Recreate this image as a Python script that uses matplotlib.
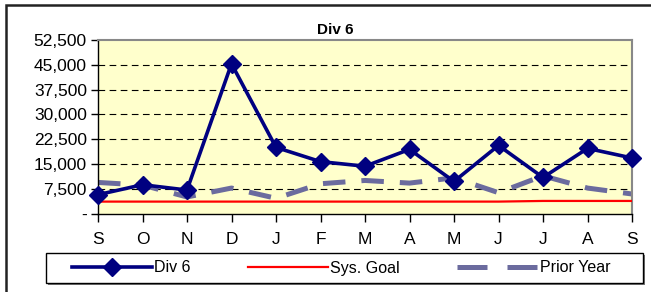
import matplotlib.pyplot as plt
import matplotlib.patches as mpatches
from matplotlib.lines import Line2D
import matplotlib.ticker as mticker

plt.rcParams['font.family'] = ['Liberation Sans', 'DejaVu Sans']

months = ['S', 'O', 'N', 'D', 'J', 'F', 'M', 'A', 'M', 'J', 'J', 'A', 'S']
div6 = [5700, 8700, 7100, 45300, 20000, 15700, 14300, 19400, 9700, 20600, 10900, 19700, 16800]
sys_goal = [3600, 3600, 3600, 3600, 3600, 3600, 3600, 3600, 3600, 3600, 3800, 3800, 3800]
prior_year = [9400, 8600, 5000, 7700, 4600, 9000, 10000, 9200, 10800, 6300, 11400, 7700, 5900]
y_ticks = [0, 7500, 15000, 22500, 30000, 37500, 45000, 52500]

W, H = 651, 292
fig = plt.figure(figsize=(W / 100, H / 100), dpi=100)

# outer chart frame (only top/left visible in the crop)
fig.patches.append(mpatches.Rectangle((6 / W, -0.1), 1.2, (H - 5) / H + 0.1,
                                      transform=fig.transFigure, fill=False,
                                      edgecolor='#222222', lw=1.8))

ax = fig.add_axes([98 / W, (H - 213.5) / H, (632 - 98) / W, (213.5 - 40) / H])
ax.set_facecolor('#FFFFCC')

x = list(range(len(months)))
ax.plot(x, prior_year, color='#6B6B9E', lw=3.6, dashes=(4.5, 3.2), zorder=2)
ax.plot(x, sys_goal, color='#FF0000', lw=1.6, zorder=3)
ax.plot(x, div6, color='#000080', lw=2.6, marker='D', markersize=9.5, zorder=4,
        clip_on=False)

ax.set_xlim(0, len(months) - 1)
ax.set_ylim(0, 52500)
ax.set_yticks(y_ticks)
ax.yaxis.set_major_formatter(mticker.FuncFormatter(
    lambda v, p: '-' if v == 0 else '{:,.0f}'.format(v)))
ax.set_xticks(x)
ax.set_xticklabels(months)

for v in y_ticks[1:-1]:
    ax.axhline(v, color='black', lw=0.8, dashes=(6, 4), zorder=1)

ax.tick_params(axis='y', labelsize=12.5, length=5, width=1, direction='out', pad=3)
ax.tick_params(axis='x', labelsize=12.5, length=6, width=1, direction='out', pad=7)
for s in ['top', 'right']:
    ax.spines[s].set_color('#888888')
    ax.spines[s].set_linewidth(1.5)
for s in ['left', 'bottom']:
    ax.spines[s].set_color('black')
    ax.spines[s].set_linewidth(1)

fig.text(335 / W, (H - 30) / H, 'Div 6', ha='center', va='center',
         fontsize=11, fontweight='bold')

# legend box with shadow, drawn by hand
fig.patches.append(mpatches.Rectangle((48 / W, (H - 285) / H), 597 / W, 30 / H,
                                      transform=fig.transFigure,
                                      facecolor='#777777', edgecolor='none'))
fig.patches.append(mpatches.Rectangle((46 / W, (H - 283) / H), 597 / W, 30 / H,
                                      transform=fig.transFigure,
                                      facecolor='white', edgecolor='black', lw=1))
handles = [
    Line2D([], [], color='#000080', lw=2.6, marker='D', markersize=9.5),
    Line2D([], [], color='#FF0000', lw=1.6),
    Line2D([], [], color='#6B6B9E', lw=3.6, dashes=(6, 4)),
]
leg = fig.legend(handles, ['Div 6', 'Sys. Goal', 'Prior Year'], ncol=3,
                 loc='center', bbox_to_anchor=(341 / W, (H - 268) / H),
                 frameon=False, fontsize=11.5,
                 handlelength=5.0, columnspacing=3.6, handletextpad=0.15,
                 borderpad=0.35, borderaxespad=0)

fig.savefig('out.png', dpi=100)
